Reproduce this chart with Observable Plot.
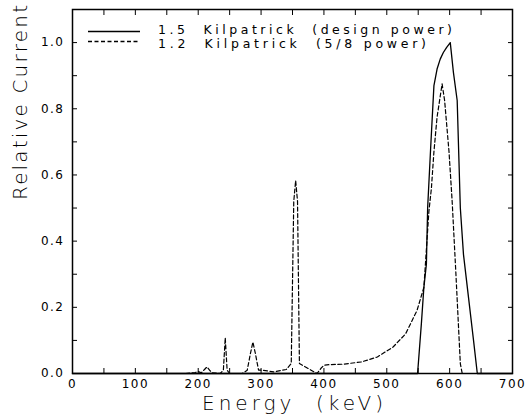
<!DOCTYPE html>
<html><head><meta charset="utf-8">
<script src="https://cdn.jsdelivr.net/npm/d3@7"></script>
<script src="https://cdn.jsdelivr.net/npm/@observablehq/plot@0.6"></script>
<style>
html,body{margin:0;padding:0;background:#fff;}
#chart{position:relative;width:527px;height:418px;}
#chart svg text{white-space:pre;}
</style>
</head><body><div id="chart"></div>
<script>
// 1.5 Kilpatrick (design power)
const designEnergy  = [0, 549, 555, 559, 563, 565, 570, 575, 580, 585, 590, 595, 601, 606, 612, 617, 622, 630, 638, 644, 700];
const designCurrent = [0, 0, 0.15, 0.26, 0.33, 0.5, 0.69, 0.87, 0.92, 0.95, 0.97, 0.985, 1.0, 0.91, 0.825, 0.5, 0.36, 0.23, 0.1, 0, 0];
// 1.2 Kilpatrick (5/8 power)
const reducedEnergy  = [180, 195, 200, 205, 210, 214, 218, 222, 235, 240, 243, 246, 250, 270, 278, 283, 287, 291, 296, 302, 320, 340, 348, 352, 355, 358, 361, 375, 389, 395, 400, 410, 430, 460, 485, 510, 530, 548, 559, 567, 571, 575, 580, 588, 592, 599, 604, 610, 617, 620, 700];
const reducedCurrent = [0, 0.003, 0.006, 0.002, 0.012, 0.02, 0.01, 0.002, 0.0, 0.01, 0.108, 0.01, 0.0, 0.0, 0.01, 0.06, 0.095, 0.06, 0.01, 0.01, 0.005, 0.012, 0.03, 0.52, 0.583, 0.52, 0.03, 0.015, 0.0, 0.015, 0.025, 0.027, 0.028, 0.035, 0.05, 0.08, 0.12, 0.19, 0.26, 0.49, 0.56, 0.67, 0.775, 0.875, 0.825, 0.67, 0.52, 0.3, 0.03, 0, 0];

const seriesNames = ["1.5  Kilpatrick  (design power)", "1.2  Kilpatrick  (5/8 power)"];
const xTickLabels = [0, 100, 200, 300, 400, 500, 600, 700];
const xTickMarks  = [0, 50, 100, 150, 200, 250, 300, 350, 400, 450, 500, 550, 600, 650, 700];
const yTickLabels = [0, 0.2, 0.4, 0.6, 0.8, 1.0];
const yTickMarks  = [0, 0.1, 0.2, 0.3, 0.4, 0.5, 0.6, 0.7, 0.8, 0.9, 1.0];
const xTitle = "Energy  (keV)";
const yTitle = "Relative Current";

const design  = designEnergy.map((e, i) => ({energy: e, current: designCurrent[i]}));
const reduced = reducedEnergy.map((e, i) => ({energy: e, current: reducedCurrent[i]}));

const font = "DejaVu Sans";
const blank = () => "";

const chart = Plot.plot({
  width: 527, height: 418,
  marginLeft: 72, marginRight: 15, marginTop: 9, marginBottom: 45,
  style: {fontFamily: font, fontSize: "12px", color: "#000", background: "#fff", letterSpacing: "1.5px"},
  x: {domain: [0, 700]},
  y: {domain: [0, 1.1]},
  marks: [
    Plot.line(reduced, {x: "energy", y: "current", stroke: "#000", strokeWidth: 1.2, strokeDasharray: "4,2.5"}),
    Plot.line(design, {x: "energy", y: "current", stroke: "#000", strokeWidth: 1.3}),
    Plot.frame({stroke: "#000", strokeWidth: 1.5}),
    Plot.axisX({ticks: xTickLabels, tickSize: 0, tickPadding: 6, tickFormat: d => String(d), label: null, fontSize: 12}),
    Plot.axisX({ticks: xTickMarks, tickSize: -5, tickFormat: blank, label: null}),
    Plot.axisX({anchor: "top", ticks: xTickMarks, tickSize: -5, tickFormat: blank, label: null}),
    Plot.axisY({ticks: yTickLabels, tickSize: 0, tickPadding: 8, tickFormat: d3.format(".1f"), label: null, fontSize: 12}),
    Plot.axisY({ticks: yTickMarks, tickSize: -5, tickFormat: blank, label: null}),
    Plot.axisY({anchor: "right", ticks: yTickMarks, tickSize: -5, tickFormat: blank, label: null}),
    Plot.text([xTitle], {text: d => d, frameAnchor: "bottom", dy: 30.5, dx: 0, lineAnchor: "middle", fontSize: 20, fontWeight: 200, fill: "#000"}),
    Plot.text([yTitle], {text: d => d, frameAnchor: "left", dx: -51.5, dy: 8.5, rotate: -90, fontSize: 20, fontWeight: 200, fill: "#000"})
  ]
});

const svg = d3.select(chart);
// stretch the titles to the reference's wide stroke-font widths
svg.selectAll("text").each(function() {
  const t = this.textContent;
  if (t === xTitle) d3.select(this).attr("textLength", 181).attr("lengthAdjust", "spacing").style("letter-spacing", "0px");
  if (t === yTitle) d3.select(this).attr("textLength", 195).attr("lengthAdjust", "spacing").style("letter-spacing", "0px");
});

// Legend inside the plot frame
const leg = svg.append("g").attr("font-family", font).attr("font-size", 12.5)
  .attr("fill", "#000").attr("text-anchor", "start");
const rows = [
  {name: seriesNames[0], y: 31.5, dash: null, baseline: 33.5, len: 294},
  {name: seriesNames[1], y: 41.5, dash: "4,2.5", baseline: 47.5, len: 268}
];
rows.forEach(r => {
  leg.append("line").attr("x1", 88).attr("x2", 140).attr("y1", r.y).attr("y2", r.y)
    .attr("stroke", "#000").attr("stroke-width", 1.3).attr("stroke-dasharray", r.dash);
  leg.append("text").attr("x", 158).attr("y", r.baseline).style("white-space", "pre").style("letter-spacing", "0px")
    .attr("textLength", r.len).attr("lengthAdjust", "spacing").text(r.name);
});

document.getElementById("chart").appendChild(chart);
</script>
</body></html>
